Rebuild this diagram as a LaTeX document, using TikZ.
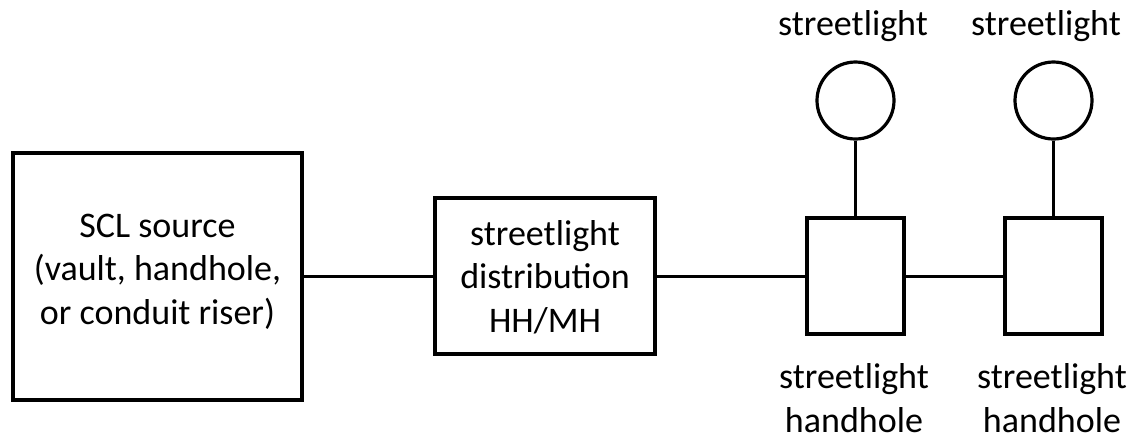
\documentclass[tikz,border=0pt]{standalone}
\usepackage{fontspec}
\setmainfont{Carlito}
\begin{document}
\begin{tikzpicture}[x=1pt,y=-1pt,
  box/.style={draw, line width=4pt, inner sep=0pt},
  lamp/.style={draw, circle, line width=3.2pt, minimum size=77pt, inner sep=0pt},
  wire/.style={line width=3pt},
  txt/.style={font=\fontsize{36}{43.5}\selectfont, align=center, inner sep=0pt, anchor=base}]
\useasboundingbox[fill=white] (0,0) rectangle (1133,440);
% boxes
\node[box, minimum width=289pt, minimum height=247pt] (src) at (157.5,276) {};
\node[box, minimum width=220pt, minimum height=156pt] (dist) at (545,276) {};
\node[box, minimum width=97pt, minimum height=116pt] (hh1) at (855.5,276) {};
\node[box, minimum width=97pt, minimum height=116pt] (hh2) at (1053.5,276) {};
% lamps
\node[lamp] (sl1) at (855.5,100.5) {};
\node[lamp] (sl2) at (1053.5,100.5) {};
% texts
\node[txt] (srct) at (157.5,324) {SCL source\\(vault, handhole,\\or conduit riser)};
\node[txt] (distt) at (545,332) {streetlight\\distribution\\HH/MH};
\node[txt] (sl1t) at (853,35) {streetlight};
\node[txt] (sl2t) at (1046,35) {streetlight};
\node[txt] (hh1t) at (854,432) {streetlight\\handhole};
\node[txt] (hh2t) at (1052,432) {streetlight\\handhole};
% wires
\draw[wire] (src.east) -- (dist.west);
\draw[wire] (dist.east) -- (hh1.west);
\draw[wire] (hh1.east) -- (hh2.west);
\draw[wire] (sl1.south) -- (hh1.north);
\draw[wire] (sl2.south) -- (hh2.north);
\end{tikzpicture}
\end{document}
